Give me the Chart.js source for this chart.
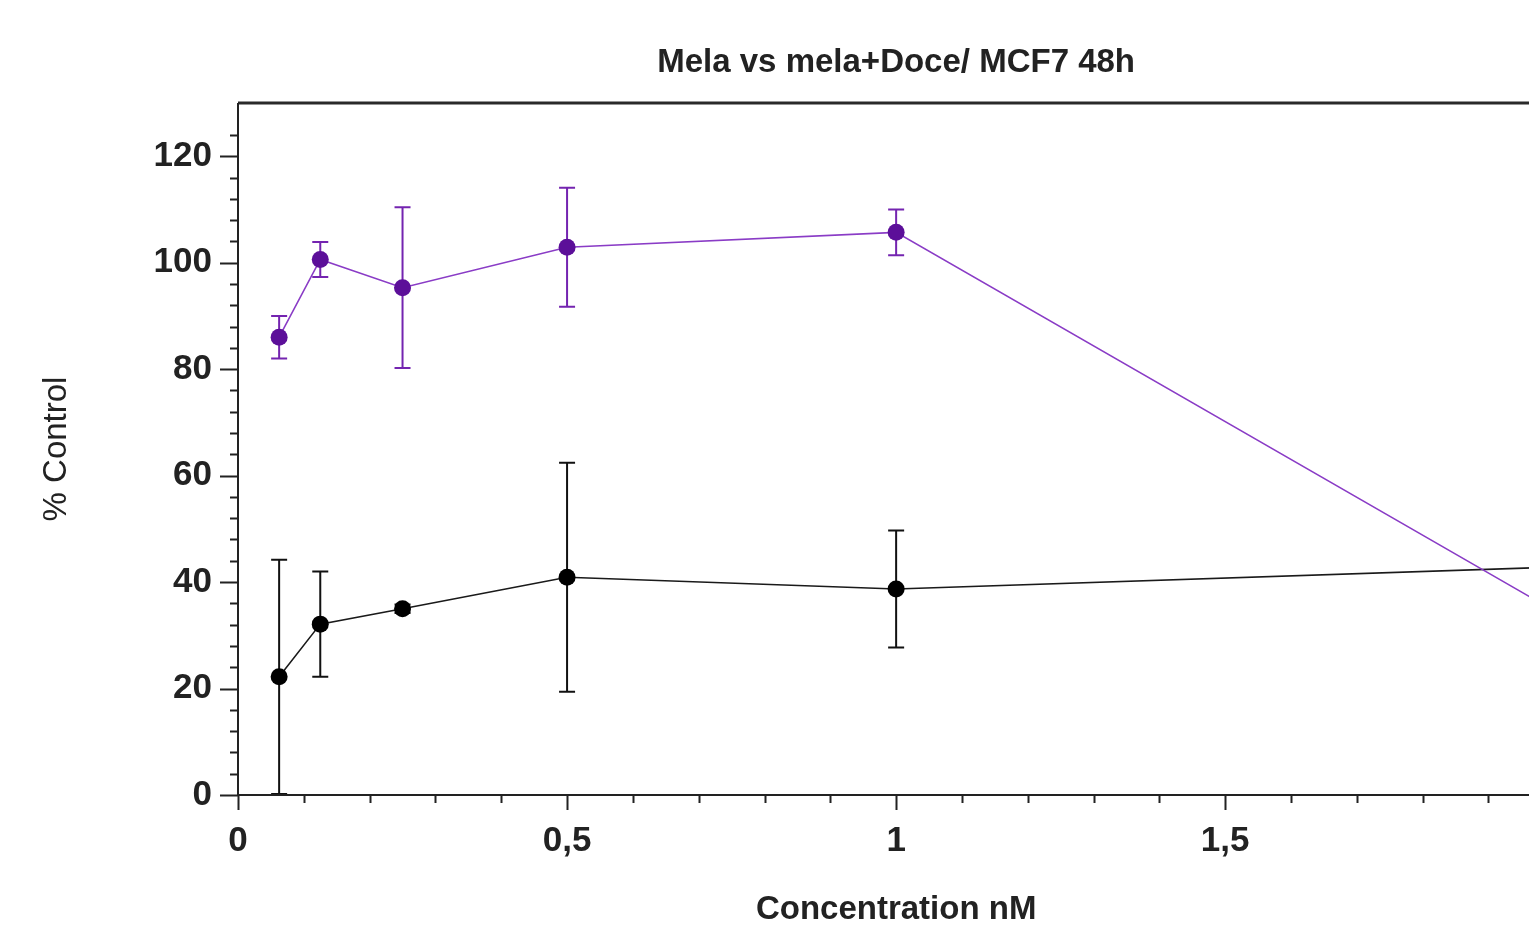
<!DOCTYPE html>
<html>
<head>
<meta charset="utf-8">
<script src="https://cdn.jsdelivr.net/npm/chart.js@4.4.1/dist/chart.umd.min.js"></script>
<style>
    html, body { margin: 0; padding: 0; overflow: hidden; background: #fff; width: 1529px; height: 927px; }
    canvas { display: block; }
</style>
</head>
<body>
<canvas id="chart" width="1589" height="927"></canvas>
<script>
// concentrations in nM
const concentrations = [0.0625, 0.125, 0.25, 0.5, 1, 2];

// mela alone (purple)
const melaMean = [86, 100.6, 95.3, 102.9, 105.7, 34.6];
const melaErr = [4, 3.3, 15.1, 11.2, 4.3, 3];

// mela + Doce (black)
const melaDoceMean = [22.2, 32.1, 35, 40.9, 38.7, 42.8];
const melaDoceErr = [22, 9.9, 0.8, 21.5, 11, 3];

const textColor = "#222";
const fontFamily = "'Liberation Sans', Arial, sans-serif";

const fmtTick = (v) => String(Math.round(v * 10) / 10).replace(".", ",");

// vertical error bars with caps, drawn under the markers
const errorBars = {
    id: "errorBars",
    beforeDatasetsDraw(chart) {
        const { ctx, scales: { y } } = chart;
        chart.data.datasets.forEach((ds, i) => {
            const meta = chart.getDatasetMeta(i);
            ctx.save();
            ctx.strokeStyle = ds.errorColor;
            ctx.lineWidth = 2;
            meta.data.forEach((pt, j) => {
                const top = y.getPixelForValue(ds.mean[j] + ds.err[j]);
                const bottom = y.getPixelForValue(Math.max(0, ds.mean[j] - ds.err[j]));
                const cap = 8;
                ctx.beginPath();
                ctx.moveTo(pt.x, top);
                ctx.lineTo(pt.x, bottom);
                ctx.moveTo(pt.x - cap, top);
                ctx.lineTo(pt.x + cap, top);
                if (ds.mean[j] - ds.err[j] > 0) {
                    ctx.moveTo(pt.x - cap, bottom);
                    ctx.lineTo(pt.x + cap, bottom);
                }
                ctx.stroke();
            });
            ctx.restore();
        });
    },
};

// frame, axis lines and major/minor ticks
const axesFrame = {
    id: "axesFrame",
    afterDraw(chart) {
        const { ctx, chartArea: a, scales: { x, y } } = chart;
        ctx.save();
        ctx.strokeStyle = "#2a2a2a";
        ctx.lineWidth = 3;
        ctx.beginPath();
        ctx.moveTo(a.left, a.top);
        ctx.lineTo(a.right, a.top);
        ctx.stroke();

        ctx.strokeStyle = textColor;
        ctx.lineWidth = 2;
        ctx.beginPath();
        ctx.moveTo(a.left, a.top);
        ctx.lineTo(a.left, a.bottom);
        ctx.moveTo(a.left, a.bottom);
        ctx.lineTo(a.right, a.bottom);

        y.ticks.forEach((t) => {
            if (Math.abs(t.value % 4) > 1e-6) return;
            const py = Math.round(y.getPixelForValue(t.value)) + 0.5;
            const len = t.value % 20 === 0 ? 18 : 8;
            ctx.moveTo(a.left - len, py);
            ctx.lineTo(a.left, py);
        });
        x.ticks.forEach((t) => {
            const px = Math.round(x.getPixelForValue(t.value)) + 0.5;
            const major = Math.abs(t.value * 2 - Math.round(t.value * 2)) < 1e-6;
            ctx.moveTo(px, a.bottom);
            ctx.lineTo(px, a.bottom + (major ? 15 : 8));
        });
        ctx.stroke();
        ctx.restore();
    },
};

new Chart(document.getElementById("chart"), {
    type: "scatter",
    data: {
        datasets: [
            {
                data: concentrations.map((c, i) => ({ x: c, y: melaMean[i] })),
                mean: melaMean,
                err: melaErr,
                errorColor: "#7424b0",
                showLine: true,
                borderColor: "#8a3cc6",
                borderWidth: 1.6,
                pointRadius: 8.5,
                pointBackgroundColor: "#5c0f99",
                pointBorderColor: "#5c0f99",
                pointBorderWidth: 0,
            },
            {
                data: concentrations.map((c, i) => ({ x: c, y: melaDoceMean[i] })),
                mean: melaDoceMean,
                err: melaDoceErr,
                errorColor: "#111",
                showLine: true,
                borderColor: "#1a1a1a",
                borderWidth: 1.6,
                pointRadius: 8.5,
                pointBackgroundColor: "#000",
                pointBorderColor: "#000",
                pointBorderWidth: 0,
            },
        ],
    },
    options: {
        responsive: false,
        animation: false,
        layout: { padding: { left: 0, right: 25, top: 0, bottom: 0 } },
        plugins: {
            legend: { display: false },
            tooltip: { enabled: false },
            title: {
                display: true,
                fullSize: false,
                text: "Mela vs mela+Doce/ MCF7 48h",
                color: textColor,
                font: { family: fontFamily, size: 33, weight: "bold", lineHeight: 1.2 },
                padding: { top: 43, bottom: 20.4 },
            },
        },
        scales: {
            x: {
                type: "linear",
                min: 0,
                max: 2,
                afterFit: (scale) => { scale.height = 132; },
                grid: { display: false, drawTicks: false },
                border: { display: false },
                ticks: {
                    stepSize: 0.1,
                    autoSkip: false,
                    maxRotation: 0,
                    padding: 25,
                    color: textColor,
                    font: { family: fontFamily, size: 35, weight: "bold" },
                    callback: (v) => (Math.abs(v * 2 - Math.round(v * 2)) < 1e-6 ? fmtTick(v) : ""),
                },
                title: {
                    display: true,
                    text: "Concentration nM",
                    color: textColor,
                    font: { family: fontFamily, size: 33, weight: "bold", lineHeight: 1 },
                    padding: { top: 0, bottom: 1 },
                },
            },
            y: {
                min: 0,
                max: 130,
                afterFit: (scale) => { scale.width = 238; },
                grid: { display: false, drawTicks: false },
                border: { display: false },
                ticks: {
                    stepSize: 4,
                    autoSkip: false,
                    padding: 26,
                    color: textColor,
                    font: { family: fontFamily, size: 35, weight: "bold" },
                    callback: (v) => (v % 20 === 0 ? String(v) : ""),
                },
                title: {
                    display: true,
                    text: "% Control",
                    color: textColor,
                    font: { family: fontFamily, size: 33, weight: "normal", lineHeight: 1 },
                    padding: { top: 40, bottom: 0 },
                },
            },
        },
    },
    plugins: [errorBars, axesFrame],
});
</script>
</body>
</html>
